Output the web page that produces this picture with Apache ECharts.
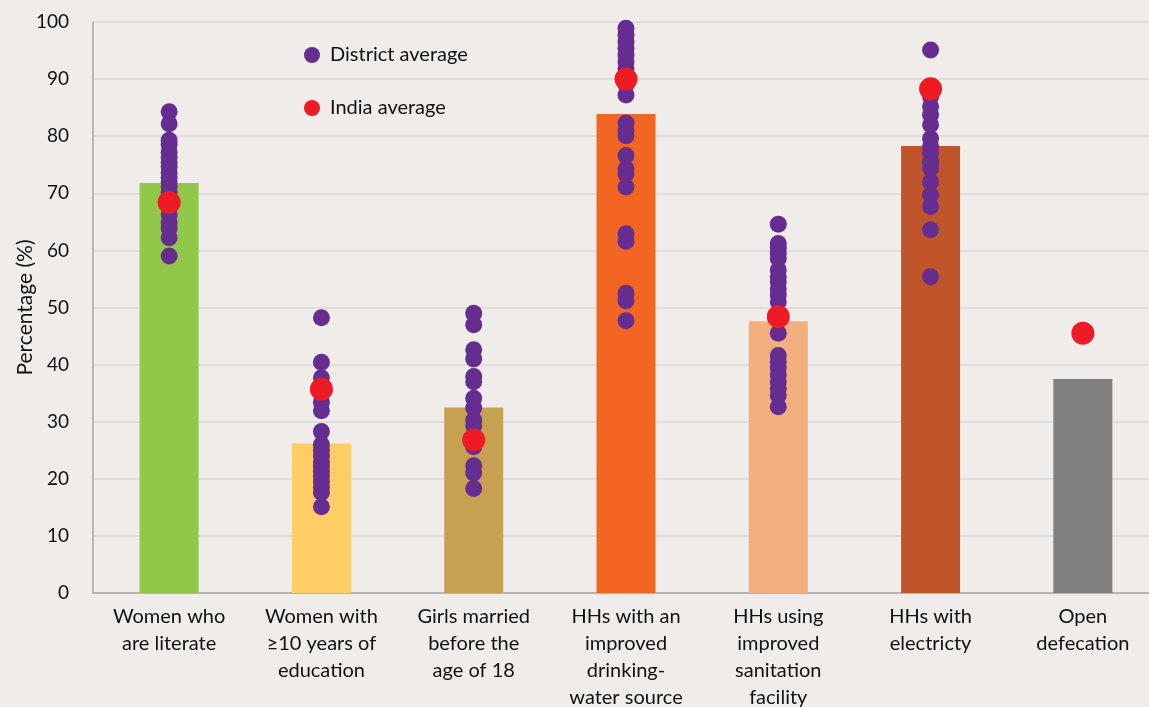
<!DOCTYPE html>
<html>
<head>
<meta charset="utf-8">
<script src="https://cdn.jsdelivr.net/npm/echarts@6/dist/echarts.min.js"></script>
<style>
html,body{margin:0;padding:0;background:#EFECE9;}
#chart{width:1149px;height:707px;}
</style>
</head>
<body>
<div id="chart"></div>
<script>
const categories = [
  "Women who\nare literate",
  "Women with\n≥10 years of\neducation",
  "Girls married\nbefore the\nage of 18",
  "HHs with an\nimproved\ndrinking-\nwater source",
  "HHs using\nimproved\nsanitation\nfacility",
  "HHs with\nelectricty",
  "Open\ndefecation"
];
const stateValues = [71.8, 26.2, 32.5, 83.9, 47.6, 78.3, 37.5];
const indiaAverage = [68.4, 35.7, 26.8, 90.0, 48.4, 88.3, 45.5];
const districtLiterate = [84.3, 82.2, 79.3, 78.6, 77.2, 76.3, 75.4, 74.6, 73.6, 72.8, 72.0, 71.2, 70.2, 69.2, 66.3, 64.9, 63.9, 62.2, 59.0];
const districtEducation = [48.2, 40.4, 37.7, 34.9, 33.4, 31.9, 28.3, 26.0, 25.0, 24.0, 23.0, 22.2, 21.3, 20.4, 19.5, 18.5, 17.6, 15.1];
const districtMarried = [49.0, 47.0, 42.6, 41.0, 37.9, 37.0, 34.1, 32.4, 30.3, 29.3, 25.6, 22.3, 21.0, 18.3];
const districtWater = [98.9, 97.7, 96.5, 95.4, 94.2, 93.0, 91.8, 89.0, 87.2, 82.3, 81.0, 80.1, 76.6, 74.3, 73.4, 71.1, 62.9, 61.6, 52.5, 51.2, 47.7];
const districtSanitation = [64.6, 61.2, 60.4, 59.5, 58.6, 56.6, 55.4, 54.5, 53.3, 52.2, 51.0, 45.5, 41.6, 40.5, 39.4, 38.2, 37.0, 35.8, 34.6, 32.6];
const districtElectricity = [95.1, 86.9, 85.2, 83.7, 82.0, 79.6, 78.2, 77.0, 75.5, 74.4, 72.0, 69.7, 67.7, 63.6, 55.4];
const districtDefecation = [];
const yTicks = [0, 10, 20, 30, 40, 50, 60, 70, 80, 90, 100];

const barColors = ["#92C84A", "#FFCC66", "#C8A052", "#F26522", "#F4AF7E", "#C1552A", "#808080"];
const districtLists = [districtLiterate, districtEducation, districtMarried, districtWater, districtSanitation, districtElectricity, districtDefecation];

const districtData = [];
districtLists.forEach((arr, i) => arr.forEach(v => districtData.push([i, v])));
const indiaData = indiaAverage.map((v, i) => [i, v]);
const barData = stateValues.map((v, i) => ({ value: v, itemStyle: { color: barColors[i] } }));

const FONT = "Lato";
const chart = echarts.init(document.getElementById('chart'), null, { renderer: 'canvas' });
chart.setOption({
  backgroundColor: '#EFECE9',
  animation: false,
  textStyle: { fontFamily: FONT },
  grid: { left: 93, top: 22, width: 1066, height: 571, outerBoundsMode: 'none', containLabel: false },
  legend: [
    {
      data: [{ name: 'District average', icon: 'circle' }],
      left: 299, top: 40, itemWidth: 16, itemHeight: 16,
      textStyle: { fontFamily: FONT, fontSize: 20, color: '#111', padding: [0, 0, 0, 5] }
    },
    {
      data: [{ name: 'India average', icon: 'circle' }],
      left: 299, top: 93, itemWidth: 16, itemHeight: 16,
      textStyle: { fontFamily: FONT, fontSize: 20, color: '#111', padding: [0, 0, 0, 5] }
    }
  ],
  xAxis: {
    type: 'category',
    data: categories,
    axisLine: { show: true, lineStyle: { color: '#A6A6A6', width: 1.5 } },
    axisTick: { show: false },
    axisLabel: { interval: 0, fontFamily: FONT, fontSize: 20, color: '#111', lineHeight: 27, margin: 10 }
  },
  yAxis: {
    type: 'value',
    min: yTicks[0], max: yTicks[yTicks.length - 1], interval: 10,
    name: 'Percentage (%)',
    nameLocation: 'middle',
    nameGap: 57,
    nameMoveOverlap: false,
    nameRotate: 90,
    nameTextStyle: { fontFamily: FONT, fontSize: 21, color: '#111' },
    axisLine: { show: true, lineStyle: { color: '#A6A6A6', width: 1.5 } },
    axisTick: { show: false },
    splitLine: { lineStyle: { color: '#D9D9D9', width: 1.5 } },
    axisLabel: { fontFamily: FONT, fontSize: 19, color: '#111', margin: 24 }
  },
  series: [
    {
      type: 'bar', name: 'State', data: barData, barWidth: 59, z: 1
    },
    {
      type: 'scatter', name: 'District average', data: districtData,
      symbol: 'circle', symbolSize: 17,
      itemStyle: { color: '#662D91', opacity: 1 }, z: 2
    },
    {
      type: 'scatter', name: 'India average', data: indiaData,
      symbol: 'circle', symbolSize: 23,
      itemStyle: { color: '#ED1C24', opacity: 1 }, z: 3
    }
  ]
});
</script>
</body>
</html>
